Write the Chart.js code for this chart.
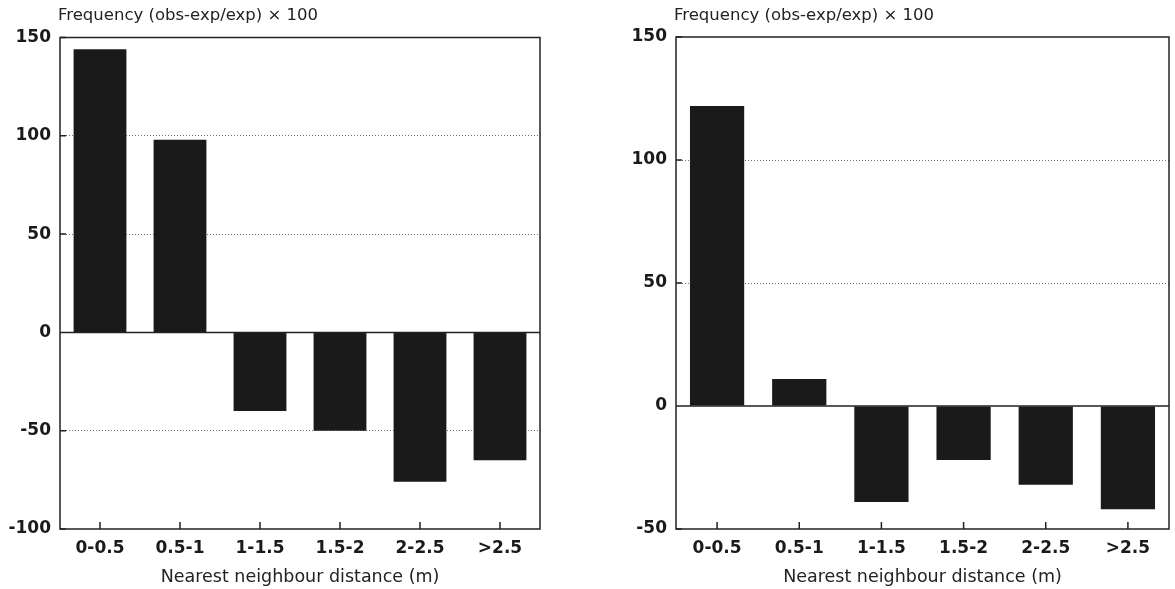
<!DOCTYPE html>
<html>
<head>
<meta charset="utf-8">
<script src="https://cdn.jsdelivr.net/npm/chart.js"></script>
<style>
body { margin: 0; background: #fff; }
#wrap { position: relative; width: 1175px; height: 589px; }
#leftcanvas { position: absolute; left: 0; top: 0; }
#rightcanvas { position: absolute; left: 590px; top: 0; }
</style>
</head>
<body>
<div id="wrap">
	<canvas id="leftcanvas" width="580" height="589"></canvas>
	<canvas id="rightcanvas" width="585" height="589"></canvas>
</div>
<script>
var distanceLabels = ['0-0.5', '0.5-1', '1-1.5', '1.5-2', '2-2.5', '>2.5'];
var leftValues = [144, 98, -40, -50, -76, -65];
var rightValues = [122, 11, -39, -22, -32, -42];
var leftTicks = [150, 100, 50, 0, -50, -100];
var rightTicks = [150, 100, 50, 0, -50];
var yTitle = 'Frequency (obs-exp/exp) × 100';
var xTitle = 'Nearest neighbour distance (m)';

var ink = '#1a1a1a';
var family = "'DejaVu Sans'";

// frame, zero line, inward tick marks and the top-left title
var framePlugin = {
	id: 'frame',
	afterDatasetsDraw: function(chart) {
		var ctx = chart.ctx;
		var a = chart.chartArea;
		var xs = chart.scales.x;
		var ys = chart.scales.y;
		ctx.save();
		ctx.strokeStyle = '#222';
		ctx.lineWidth = 1.5;
		ctx.strokeRect(a.left, a.top, a.right - a.left, a.bottom - a.top);

		var y0 = ys.getPixelForValue(0);
		ctx.beginPath();
		ctx.moveTo(a.left, y0);
		ctx.lineTo(a.right, y0);
		xs.ticks.forEach(function(t, i) {
			var px = xs.getPixelForTick(i);
			ctx.moveTo(px, a.bottom);
			ctx.lineTo(px, a.bottom - 7);
		});
		ys.ticks.forEach(function(t) {
			var py = ys.getPixelForValue(t.value);
			ctx.moveTo(a.left, py);
			ctx.lineTo(a.left + 6, py);
		});
		ctx.stroke();

		ctx.fillStyle = '#222';
		ctx.font = '16.5px ' + family;
		ctx.textAlign = 'left';
		ctx.textBaseline = 'middle';
		ctx.fillText(yTitle, a.left - 2, 16);
		ctx.restore();
	}
};

function makeChart(id, values, ticks, yWidth, padTop, padRight) {
	var ymin = Math.min.apply(null, ticks);
	var ymax = Math.max.apply(null, ticks);
	return new Chart(document.getElementById(id), {
		type: 'bar',
		data: {
			labels: distanceLabels,
			datasets: [{
				data: values,
				backgroundColor: ink,
				borderWidth: 0,
				barPercentage: 0.66,
				categoryPercentage: 1.0
			}]
		},
		options: {
			responsive: false,
			animation: false,
			devicePixelRatio: 1,
			layout: { padding: { top: padTop, right: padRight, bottom: 0, left: 0 } },
			plugins: {
				legend: { display: false },
				tooltip: { enabled: false }
			},
			scales: {
				x: {
					type: 'category',
					offset: true,
					grid: { display: false, drawTicks: false },
					border: { display: false },
					ticks: {
						color: ink,
						font: { family: family, size: 17, weight: 'bold' },
						padding: 9,
						maxRotation: 0,
						autoSkip: false
					},
					title: {
						display: true,
						text: xTitle,
						color: '#222',
						font: { family: family, size: 17.5 },
						padding: { top: 0, bottom: 1 }
					},
					afterFit: function(s) { s.height = 60; }
				},
				y: {
					min: ymin,
					max: ymax,
					grid: {
						drawTicks: false,
						lineWidth: 1,
						color: function(c) {
							var v = c.tick ? c.tick.value : null;
							if (v === ymin || v === ymax || v === 0) return 'rgba(0,0,0,0)';
							return '#707070';
						}
					},
					border: { display: false, dash: [1, 2] },
					ticks: {
						stepSize: 50,
						color: ink,
						font: { family: family, size: 17, weight: 'bold' },
						padding: 9,
						callback: function(v) { return String(v); }
					},
					afterFit: function(s) { s.width = yWidth; }
				}
			}
		},
		plugins: [framePlugin]
	});
}

var leftChart = makeChart('leftcanvas', leftValues, leftTicks, 60, 37.5, 40);
var rightChart = makeChart('rightcanvas', rightValues, rightTicks, 86, 37, 6);
</script>
</body>
</html>
